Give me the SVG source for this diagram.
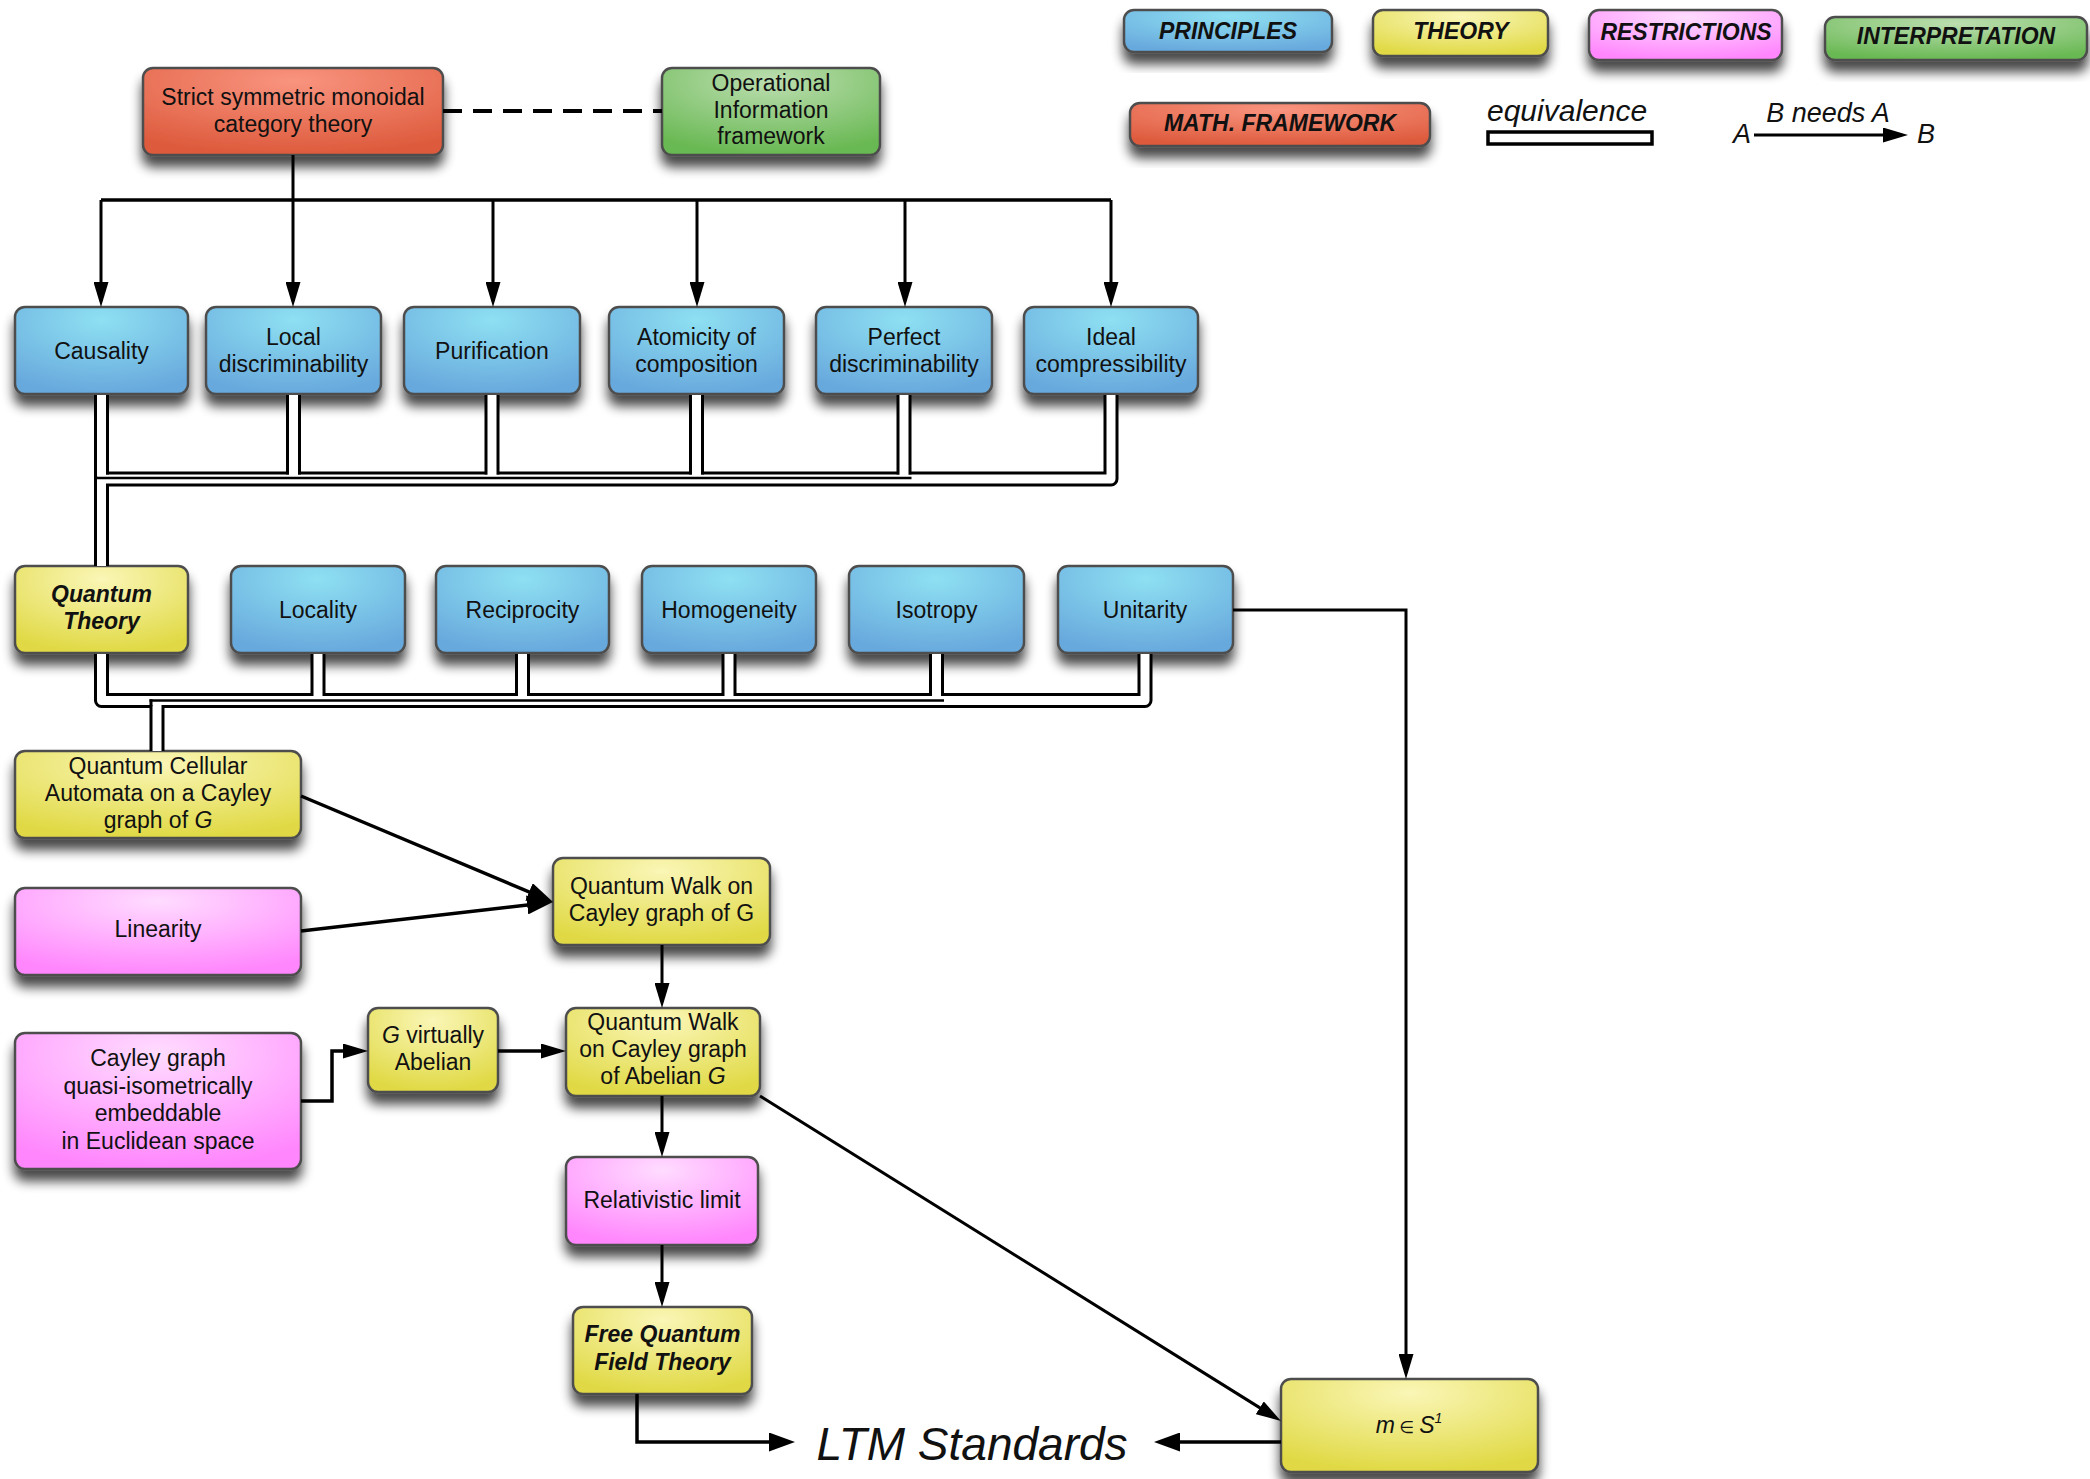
<svg xmlns="http://www.w3.org/2000/svg" width="2090" height="1479" viewBox="0 0 2090 1479">
  <defs>
    <style>
      .box { stroke: #4e4e4e; stroke-width: 2.5; filter: url(#shadow); }
      .t { font-family: 'Liberation Sans', Arial, 'DejaVu Sans', sans-serif; font-size: 23px; text-anchor: middle; fill: #111; }
      .bi { font-weight: bold; font-style: italic; }
      .it { font-style: italic; }
      .ln { fill: none; stroke: #000; stroke-width: 3; }
      .tb { fill: none; stroke: #000; stroke-width: 15; stroke-linejoin: round; }
      .tw { fill: none; stroke: #fff; stroke-width: 9; stroke-linejoin: round; }
      .blu { fill: url(#gBlue); }
      .yel { fill: url(#gYel); }
      .pnk { fill: url(#gPink); }
      .red { fill: url(#gRed); }
      .grn { fill: url(#gGreen); }
    </style>
    <filter id="shadow" x="-20%" y="-20%" width="140%" height="170%">
      <feGaussianBlur in="SourceAlpha" stdDeviation="6"/>
      <feOffset dy="11" result="off"/>
      <feComponentTransfer><feFuncA type="linear" slope="0.72"/></feComponentTransfer>
      <feMerge><feMergeNode/><feMergeNode in="SourceGraphic"/></feMerge>
    </filter>
    <radialGradient id="gBlue" cx="0.5" cy="0.15" r="0.85">
      <stop offset="0" stop-color="#8ee0f2"/>
      <stop offset="1" stop-color="#68a9dd"/>
    </radialGradient>
    <radialGradient id="gYel" cx="0.5" cy="0.15" r="0.85">
      <stop offset="0" stop-color="#faf6b6"/>
      <stop offset="1" stop-color="#e0d944"/>
    </radialGradient>
    <radialGradient id="gPink" cx="0.5" cy="0.15" r="0.85">
      <stop offset="0" stop-color="#ffdcff"/>
      <stop offset="1" stop-color="#ff86fd"/>
    </radialGradient>
    <radialGradient id="gRed" cx="0.5" cy="0.15" r="0.85">
      <stop offset="0" stop-color="#f9947f"/>
      <stop offset="1" stop-color="#dd5a3c"/>
    </radialGradient>
    <radialGradient id="gGreen" cx="0.5" cy="0.15" r="0.85">
      <stop offset="0" stop-color="#bcdeb0"/>
      <stop offset="1" stop-color="#68b852"/>
    </radialGradient>
    <marker id="arr" markerUnits="userSpaceOnUse" markerWidth="25" markerHeight="15" refX="19" refY="7.5" orient="auto">
      <path d="M0,0 L25,7.5 L0,15 z" fill="#000"/>
    </marker>
    <marker id="arrL" markerUnits="userSpaceOnUse" markerWidth="26" markerHeight="19" refX="20" refY="9.5" orient="auto">
      <path d="M0,0 L26,9.5 L0,19 z" fill="#000"/>
    </marker>
  </defs>

  <rect width="2090" height="1479" fill="#fff"/>

  <!-- legend -->
  <g id="legend">
    <g id="leg-principles">
      <rect class="box blu" x="1124" y="10" width="208" height="42" rx="10"/>
      <text class="t bi" x="1228" y="39">PRINCIPLES</text>
    </g>
    <g id="leg-theory">
      <rect class="box yel" x="1373" y="10" width="175" height="46" rx="10"/>
      <text class="t bi" x="1461" y="39">THEORY</text>
    </g>
    <g id="leg-restrictions">
      <rect class="box pnk" x="1589" y="10" width="193" height="50" rx="10"/>
      <text class="t bi" x="1686" y="40">RESTRICTIONS</text>
    </g>
    <g id="leg-interpretation">
      <rect class="box grn" x="1825" y="17" width="262" height="43" rx="10"/>
      <text class="t bi" x="1956" y="44">INTERPRETATION</text>
    </g>
    <g id="leg-math">
      <rect class="box red" x="1130" y="103" width="300" height="43" rx="10"/>
      <text class="t bi" x="1280" y="131">MATH. FRAMEWORK</text>
    </g>
    <g id="leg-equivalence">
      <text class="t it" x="1487" y="121" style="text-anchor:start;font-size:30px">equivalence</text>
      <rect x="1488" y="132" width="164" height="12" fill="#fff" stroke="#000" stroke-width="3.5"/>
    </g>
    <g id="leg-needs">
      <text class="t it" x="1828" y="122" style="font-size:27px">B needs A</text>
      <text class="t it" x="1733" y="143" style="text-anchor:start;font-size:27px">A</text>
      <text class="t it" x="1917" y="143" style="text-anchor:start;font-size:27px">B</text>
      <path class="ln" d="M1754,135 H1902" marker-end="url(#arr)"/>
    </g>
  </g>

  <!-- nodes -->
  <g id="n-strict">
    <rect class="box red" x="143" y="68" width="300" height="87" rx="10"/>
    <text class="t" x="293" y="105">Strict symmetric monoidal</text>
    <text class="t" x="293" y="132">category theory</text>
  </g>
  <g id="n-oif">
    <rect class="box grn" x="662" y="68" width="218" height="87" rx="10"/>
    <text class="t" x="771" y="91">Operational</text>
    <text class="t" x="771" y="117.5">Information</text>
    <text class="t" x="771" y="144">framework</text>
  </g>

  <g id="n-causality">
    <rect class="box blu" x="15" y="307" width="173" height="87" rx="10"/>
    <text class="t" x="101.5" y="358.5">Causality</text>
  </g>
  <g id="n-localdisc">
    <rect class="box blu" x="206" y="307" width="175" height="87" rx="10"/>
    <text class="t" x="293.5" y="345">Local</text>
    <text class="t" x="293.5" y="372">discriminability</text>
  </g>
  <g id="n-purification">
    <rect class="box blu" x="404" y="307" width="176" height="87" rx="10"/>
    <text class="t" x="492" y="358.5">Purification</text>
  </g>
  <g id="n-atomicity">
    <rect class="box blu" x="609" y="307" width="175" height="87" rx="10"/>
    <text class="t" x="696.5" y="345">Atomicity of</text>
    <text class="t" x="696.5" y="372">composition</text>
  </g>
  <g id="n-perfectdisc">
    <rect class="box blu" x="816" y="307" width="176" height="87" rx="10"/>
    <text class="t" x="904" y="345">Perfect</text>
    <text class="t" x="904" y="372">discriminability</text>
  </g>
  <g id="n-idealcomp">
    <rect class="box blu" x="1024" y="307" width="174" height="87" rx="10"/>
    <text class="t" x="1111" y="345">Ideal</text>
    <text class="t" x="1111" y="372">compressibility</text>
  </g>

  <g id="n-qt">
    <rect class="box yel" x="15" y="566" width="173" height="87" rx="10"/>
    <text class="t bi" x="101.5" y="602">Quantum</text>
    <text class="t bi" x="101.5" y="629">Theory</text>
  </g>
  <g id="n-locality">
    <rect class="box blu" x="231" y="566" width="174" height="87" rx="10"/>
    <text class="t" x="318" y="617.5">Locality</text>
  </g>
  <g id="n-reciprocity">
    <rect class="box blu" x="436" y="566" width="173" height="87" rx="10"/>
    <text class="t" x="522.5" y="617.5">Reciprocity</text>
  </g>
  <g id="n-homogeneity">
    <rect class="box blu" x="642" y="566" width="174" height="87" rx="10"/>
    <text class="t" x="729" y="617.5">Homogeneity</text>
  </g>
  <g id="n-isotropy">
    <rect class="box blu" x="849" y="566" width="175" height="87" rx="10"/>
    <text class="t" x="936.5" y="617.5">Isotropy</text>
  </g>
  <g id="n-unitarity">
    <rect class="box blu" x="1058" y="566" width="175" height="87" rx="10"/>
    <text class="t" x="1145" y="617.5">Unitarity</text>
  </g>

  <g id="n-qca">
    <rect class="box yel" x="15" y="751" width="286" height="87" rx="10"/>
    <text class="t" x="158" y="774">Quantum Cellular</text>
    <text class="t" x="158" y="801">Automata on a Cayley</text>
    <text class="t" x="158" y="828">graph of <tspan class="it">G</tspan></text>
  </g>
  <g id="n-linearity">
    <rect class="box pnk" x="15" y="888" width="286" height="87" rx="10"/>
    <text class="t" x="158" y="937">Linearity</text>
  </g>
  <g id="n-qwcayley">
    <rect class="box yel" x="553" y="858" width="217" height="87" rx="10"/>
    <text class="t" x="661.5" y="894">Quantum Walk on</text>
    <text class="t" x="661.5" y="921">Cayley graph of G</text>
  </g>
  <g id="n-cayleyeuclid">
    <rect class="box pnk" x="15" y="1033" width="286" height="136" rx="10"/>
    <text class="t" x="158" y="1066">Cayley graph</text>
    <text class="t" x="158" y="1094">quasi-isometrically</text>
    <text class="t" x="158" y="1121">embeddable</text>
    <text class="t" x="158" y="1149">in Euclidean space</text>
  </g>
  <g id="n-gvirtual">
    <rect class="box yel" x="368" y="1008" width="130" height="84" rx="10"/>
    <text class="t" x="433" y="1043"><tspan class="it">G</tspan> virtually</text>
    <text class="t" x="433" y="1070">Abelian</text>
  </g>
  <g id="n-qwabelian">
    <rect class="box yel" x="566" y="1008" width="194" height="88" rx="10"/>
    <text class="t" x="663" y="1030">Quantum Walk</text>
    <text class="t" x="663" y="1057">on Cayley graph</text>
    <text class="t" x="663" y="1084">of Abelian <tspan class="it">G</tspan></text>
  </g>
  <g id="n-relativistic">
    <rect class="box pnk" x="566" y="1157" width="192" height="88" rx="10"/>
    <text class="t" x="662" y="1208">Relativistic limit</text>
  </g>
  <g id="n-fqft">
    <rect class="box yel" x="573" y="1307" width="179" height="87" rx="10"/>
    <text class="t bi" x="662.5" y="1342">Free Quantum</text>
    <text class="t bi" x="662.5" y="1370">Field Theory</text>
  </g>
  <g id="n-mass">
    <rect class="box yel" x="1281" y="1379" width="257" height="93" rx="10"/>
    <text class="t it" x="1409" y="1433"><tspan>m</tspan><tspan style="font-style:normal;font-size:17px"> ∈ </tspan><tspan>S</tspan><tspan style="font-size:14px" dy="-10">1</tspan></text>
  </g>
  <g id="n-ltm">
    <text class="t it" x="972" y="1460" style="font-size:46px">LTM Standards</text>
  </g>

  <!-- connectors -->
  <g id="connectors">
    <!-- framework fan-out to the principles -->
    <path class="ln" d="M293,155 V200"/>
    <path class="ln" d="M101,200 H1111" style="stroke-width:3.5"/>
    <path class="ln" d="M101,200 V301" marker-end="url(#arr)"/>
    <path class="ln" d="M293,200 V301" marker-end="url(#arr)"/>
    <path class="ln" d="M493,200 V301" marker-end="url(#arr)"/>
    <path class="ln" d="M697,200 V301" marker-end="url(#arr)"/>
    <path class="ln" d="M905,200 V301" marker-end="url(#arr)"/>
    <path class="ln" d="M1111,200 V301" marker-end="url(#arr)"/>
    <path class="ln" d="M443,111 H662" style="stroke-width:4;stroke-dasharray:19 11"/>

    <!-- equivalence bundle: first row of principles into Quantum Theory -->
    <path class="tb" d="M1111,395 V479 H101.5 V566"/>
    <path class="tw" d="M1111,395 V479 H101.5 V566"/>
    <path class="tb" style="stroke-linejoin:miter" d="M101.5,395 V474.5 M293.5,395 V474.5 M492,395 V474.5 M696.5,395 V474.5 M904,395 V474.5"/>
    <path class="tw" style="stroke-linejoin:miter" d="M101.5,395 V476.75 M293.5,395 V476.75 M492,395 V476.75 M696.5,395 V476.75 M904,395 V476.75"/>
    <rect x="94" y="476.75" width="817.5" height="2.5" fill="#000"/>
    <rect x="94" y="470" width="3" height="11" fill="#000"/>

    <!-- equivalence bundle: second row into the cellular automata -->
    <path class="tb" d="M101.5,654 V700.5 H157"/>
    <path class="tb" d="M1145,654 V700.5 H157 V751"/>
    <path class="tw" d="M101.5,654 V700.5 H157"/>
    <path class="tw" d="M1145,654 V700.5 H157 V751"/>
    <path class="tb" style="stroke-linejoin:miter" d="M318,654 V696 M522.5,654 V696 M729,654 V696 M936.5,654 V696"/>
    <path class="tw" style="stroke-linejoin:miter" d="M318,654 V699.25 M522.5,654 V699.25 M729,654 V699.25 M936.5,654 V699.25"/>
    <rect x="149.5" y="699.25" width="794.5" height="2.5" fill="#000"/>
    <rect x="149.5" y="699.25" width="3" height="7" fill="#000"/>

    <!-- needs-arrows -->
    <path class="ln" d="M1233,610 H1406 V1373" marker-end="url(#arr)"/>
    <path class="ln" d="M301,796 L547.5,899.7" style="stroke-width:3.5" marker-end="url(#arrL)"/>
    <path class="ln" d="M301,931 L547,902.7" style="stroke-width:3.5" marker-end="url(#arrL)"/>
    <path class="ln" d="M662,945 V1002" marker-end="url(#arr)"/>
    <path class="ln" d="M301,1101 H332 V1051 H362" style="stroke-width:3.5" marker-end="url(#arr)"/>
    <path class="ln" d="M498,1051 H560" style="stroke-width:3.5" marker-end="url(#arr)"/>
    <path class="ln" d="M662,1096 V1151" marker-end="url(#arr)"/>
    <path class="ln" d="M760,1096 L1275.9,1417.8" marker-end="url(#arr)"/>
    <path class="ln" d="M662,1245 V1301" marker-end="url(#arr)"/>
    <path class="ln" d="M637,1394 V1442 H789" style="stroke-width:3.5" marker-end="url(#arrL)"/>
    <path class="ln" d="M1281,1442 H1160" style="stroke-width:3.5" marker-end="url(#arrL)"/>
  </g>
</svg>
